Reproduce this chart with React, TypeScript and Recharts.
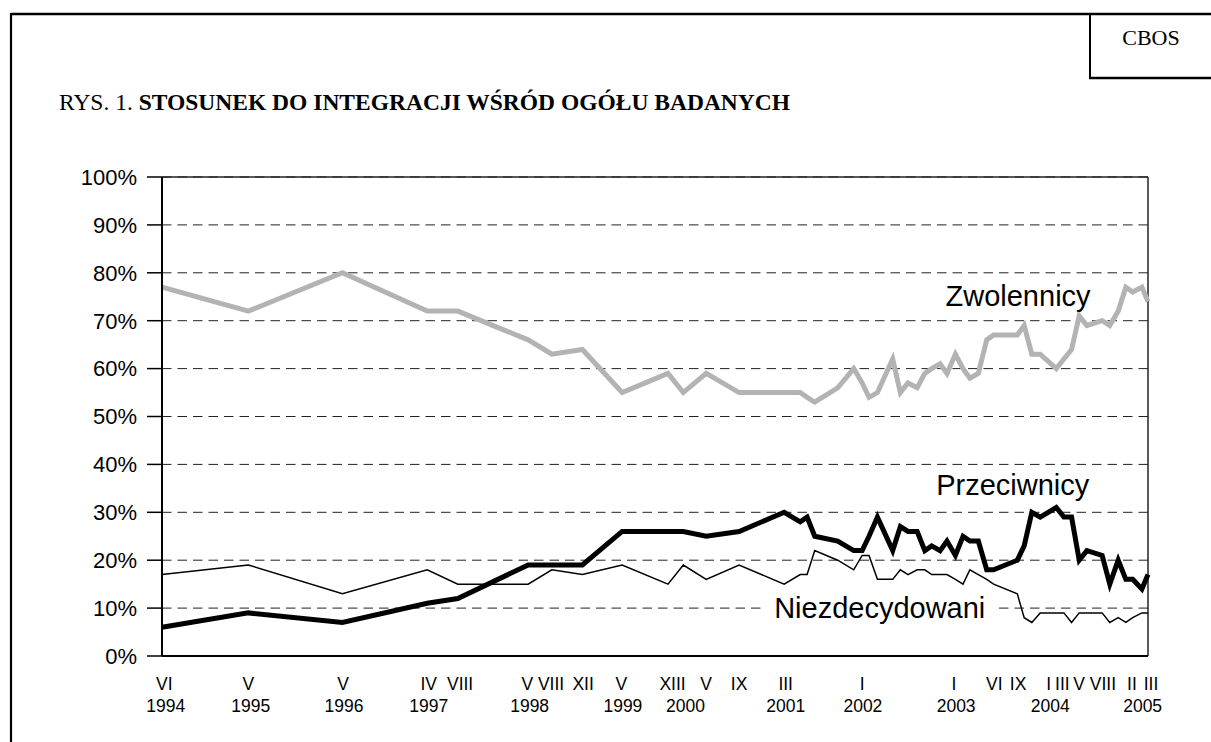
import React from 'react';
import { LineChart, Line, XAxis, YAxis, CartesianGrid, ReferenceLine, ReferenceDot } from 'recharts';

// x values: months counted from January 1994 (VI 1994 = 5, III 2005 = 134)
const months = [5, 16.3, 28.6, 39.7, 43.7, 52.9, 56.0, 60.0, 65.2, 71.2, 73.2, 76.2, 80.5, 86.4, 88.5, 89.4, 90.4, 93.4, 95.5, 96.6, 97.5, 98.6, 100.6, 101.6, 102.6, 103.8, 104.8, 105.7, 106.8, 107.7, 108.8, 109.8, 110.7, 111.8, 112.9, 113.8, 116.9, 117.8, 118.8, 119.9, 122.0, 123.0, 124.0, 125.0, 126.0, 128.0, 129.0, 130.1, 131.1, 132.0, 133.2, 134];

const zwolennicy = [77, 72, 80, 72, 72, 66, 63, 64, 55, 59, 55, 59, 55, 55, 55, 54, 53, 56, 60, 57, 54, 55, 62, 55, 57, 56, 59, 60, 61, 59, 63, 60, 58, 59, 66, 67, 67, 69, 63, 63, 60, 62, 64, 71, 69, 70, 69, 72, 77, 76, 77, 74];

const przeciwnicy = [6, 9, 7, 11, 12, 19, 19, 19, 26, 26, 26, 25, 26, 30, 28, 29, 25, 24, 22, 22, 25, 29, 22, 27, 26, 26, 22, 23, 22, 24, 21, 25, 24, 24, 18, 18, 20, 23, 30, 29, 31, 29, 29, 20, 22, 21, 15, 20, 16, 16, 14, 17];

const niezdecydowani = [17, 19, 13, 18, 15, 15, 18, 17, 19, 15, 19, 16, 19, 15, 17, 17, 22, 20, 18, 21, 21, 16, 16, 18, 17, 18, 18, 17, 17, 17, 16, 15, 18, 17, 16, 15, 13, 8, 7, 9, 9, 9, 7, 9, 9, 9, 7, 8, 7, 8, 9, 9];

const monthTickPos = [5.3, 16.3, 28.7, 39.9, 44.0, 52.8, 55.9, 60.1, 65.1, 71.8, 76.2, 80.5, 86.6, 96.6, 108.6, 113.9, 117.0, 121.0, 122.8, 125.0, 128.1, 131.9, 134];
const monthTickLabels = ['VI', 'V', 'V', 'IV', 'VIII', 'V', 'VIII', 'XII', 'V', 'XIII', 'V', 'IX', 'III', 'I', 'I', 'VI', 'IX', 'I', 'III', 'V', 'VIII', 'II', 'III'];

const yearTickPos = [5.5, 16.6, 28.8, 39.9, 53.1, 65.3, 73.5, 86.6, 96.7, 108.9, 121.2, 133.3];
const yearTickLabels = ['1994', '1995', '1996', '1997', '1998', '1999', '2000', '2001', '2002', '2003', '2004', '2005'];

const yTicks = [0, 10, 20, 30, 40, 50, 60, 70, 80, 90, 100];

const seriesNames = ['Zwolennicy', 'Przeciwnicy', 'Niezdecydowani'];

const data = months.map((m, i) => ({
  m,
  zw: zwolennicy[i],
  pr: przeciwnicy[i],
  nz: niezdecydowani[i],
}));

const SANS = '"Liberation Sans", Arial, Helvetica, sans-serif';
const SERIF = '"Liberation Serif", "Times New Roman", Times, serif';

function MonthTick(props: any) {
  const { x, y, payload } = props;
  const idx = monthTickPos.indexOf(payload.value);
  const last = idx === monthTickPos.length - 1;
  return (
    <text x={x} dx={last ? 3 : 0} y={y + 34} textAnchor="middle" fontSize={17.5} fontFamily={SANS} fill="#000">
      {monthTickLabels[idx]}
    </text>
  );
}

function YearTick(props: any) {
  const { x, y, payload } = props;
  const idx = yearTickPos.indexOf(payload.value);
  return (
    <text x={x} y={y + 26} textAnchor="middle" fontSize={17.5} fontFamily={SANS} fill="#000">
      {yearTickLabels[idx]}
    </text>
  );
}

const makeSeriesLabel = (text: string, withBg: boolean) => (props: any) => {
  const vb = props.viewBox || {};
  const cx = (vb.x || 0) + (vb.width || 0) / 2;
  const cy = (vb.y || 0) + (vb.height || 0) / 2;
  const fs = 29;
  return (
    <g>
      {withBg ? <rect x={cx - 118} y={cy - 17} width={236} height={34} fill="#fff" /> : null}
      <text x={cx} y={cy + fs * 0.355} textAnchor="middle" fontSize={fs} fontFamily={SANS} fill="#000">
        {text}
      </text>
    </g>
  );
};

export default function App() {
  return (
    <div style={{ position: 'absolute', left: 0, top: 0, width: 1211, height: 742, background: '#fff', overflow: 'hidden' }}>
      <svg width={1211} height={742} style={{ position: 'absolute', left: 0, top: 0 }}>
        <line x1={11} y1={14} x2={1211} y2={14} stroke="#000" strokeWidth={2.5} />
        <line x1={11} y1={13} x2={11} y2={742} stroke="#000" strokeWidth={2.2} />
        <line x1={1090} y1={14} x2={1090} y2={78} stroke="#000" strokeWidth={2} />
        <line x1={1089} y1={78} x2={1211} y2={78} stroke="#000" strokeWidth={2.5} />
        <text x={1151} y={45} textAnchor="middle" fontSize={22} fontFamily={SERIF} fill="#000">CBOS</text>
        <text x={59} y={110} fontSize={23.5} fontFamily={SERIF} fill="#000">
          RYS. 1. <tspan fontWeight="bold">STOSUNEK DO INTEGRACJI WŚRÓD OGÓŁU BADANYCH</tspan>
        </text>
      </svg>
      <div style={{ position: 'absolute', left: 0, top: 0 }}>
        <LineChart width={1211} height={742} data={data} margin={{ top: 177, right: 63, bottom: 16, left: 0 }}>
          <CartesianGrid vertical={false} stroke="#222" strokeWidth={1} strokeDasharray="9.5 6" />
          <XAxis
            dataKey="m"
            type="number"
            domain={[5, 134]}
            ticks={monthTickPos}
            interval={0}
            tick={<MonthTick />}
            tickSize={0}
            tickMargin={0}
            tickLine={false}
            axisLine={{ stroke: '#000', strokeWidth: 2 }}
            height={30}
          />
          <XAxis
            xAxisId="years"
            dataKey="m"
            type="number"
            domain={[5, 134]}
            ticks={yearTickPos}
            interval={0}
            tick={<YearTick />}
            tickSize={0}
            tickMargin={0}
            tickLine={false}
            axisLine={false}
            height={40}
          />
          <YAxis
            domain={[0, 100]}
            ticks={yTicks}
            interval={0}
            tickFormatter={(v: number) => `${v}%`}
            width={162}
            tickSize={15}
            tickMargin={10}
            axisLine={{ stroke: '#000', strokeWidth: 2 }}
            tickLine={{ stroke: '#000', strokeWidth: 1.5 }}
            tick={{ fontSize: 22, fontFamily: SANS, fill: '#000' }}
          />
          <ReferenceLine y={100} stroke="#222" strokeWidth={1.5} />
          <ReferenceLine x={134} stroke="#222" strokeWidth={1.5} />
          <ReferenceDot x={98.9} y={10} r={1} fill="none" stroke="none" label={makeSeriesLabel(seriesNames[2], true)} />
          <ReferenceDot x={117.0} y={75.2} r={1} fill="none" stroke="none" label={makeSeriesLabel(seriesNames[0], false)} />
          <ReferenceDot x={116.3} y={35.7} r={1} fill="none" stroke="none" label={makeSeriesLabel(seriesNames[1], false)} />
          <Line type="linear" dataKey="zw" name={seriesNames[0]} stroke="#B3B3B3" strokeWidth={5} dot={false} activeDot={false} isAnimationActive={false} />
          <Line type="linear" dataKey="nz" name={seriesNames[2]} stroke="#000" strokeWidth={1.5} dot={false} activeDot={false} isAnimationActive={false} />
          <Line type="linear" dataKey="pr" name={seriesNames[1]} stroke="#000" strokeWidth={5} dot={false} activeDot={false} isAnimationActive={false} />
        </LineChart>
      </div>
    </div>
  );
}
